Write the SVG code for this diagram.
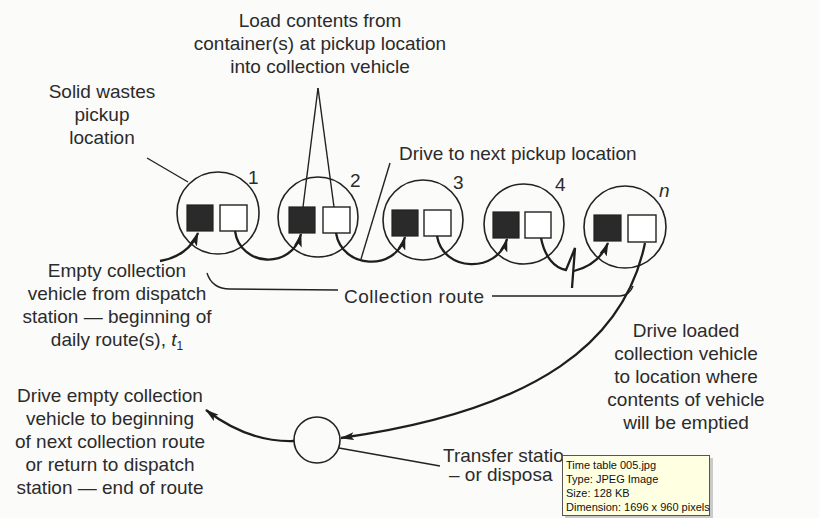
<svg xmlns="http://www.w3.org/2000/svg" width="819" height="518" viewBox="0 0 819 518">
  <style>
    .t { font-family: "Liberation Sans", Arial, sans-serif; font-size: 19px; fill: #2b2b2b; text-anchor: middle; }
    .ts { text-anchor: start; }
    .num { font-family: "Liberation Sans", Arial, sans-serif; font-size: 19px; fill: #2b2b2b; }
    .c { fill: none; stroke: #222; stroke-width: 1.6; }
    .bk { fill: #2a2a2a; stroke: #222; stroke-width: 1.2; }
    .wh { fill: #fff; stroke: #222; stroke-width: 1.4; }
    .thick { fill: none; stroke: #1e1e1e; stroke-width: 2.3; }
    .thin { fill: none; stroke: #222; stroke-width: 1.4; }
    .tip { font-family: "Liberation Sans", Tahoma, sans-serif; font-size: 11px; fill: #111; }
  </style>
  <defs>
    <marker id="ah" markerUnits="userSpaceOnUse" markerWidth="14" markerHeight="8" refX="13" refY="4" orient="auto">
      <path d="M0,0 L14,4 L0,8 L3,4 z" fill="#1e1e1e"/>
    </marker>
  </defs>
  <rect x="0" y="0" width="819" height="518" fill="#fbfbfa"/>

  <!-- pickup locations -->
  <g id="pickup-1">
    <circle class="c" cx="218" cy="213" r="41"/>
    <rect class="bk" x="187" y="205" width="26" height="26"/>
    <rect class="wh" x="220" y="205" width="27" height="26"/>
    <text class="num" x="248" y="184">1</text>
  </g>
  <g id="pickup-2">
    <circle class="c" cx="318" cy="217" r="40"/>
    <rect class="bk" x="289" y="207" width="26" height="26"/>
    <rect class="wh" x="323" y="207" width="27" height="26"/>
    <text class="num" x="350" y="187">2</text>
  </g>
  <g id="pickup-3">
    <circle class="c" cx="423" cy="220" r="40"/>
    <rect class="bk" x="392" y="210" width="26" height="26"/>
    <rect class="wh" x="424" y="210" width="27" height="26"/>
    <text class="num" x="453" y="189">3</text>
  </g>
  <g id="pickup-4">
    <circle class="c" cx="524" cy="224" r="40"/>
    <rect class="bk" x="493" y="212" width="26" height="26"/>
    <rect class="wh" x="525" y="212" width="26" height="26"/>
    <text class="num" x="555" y="191">4</text>
  </g>
  <g id="pickup-n">
    <circle class="c" cx="625" cy="227" r="41"/>
    <rect class="bk" x="594" y="215" width="27" height="26"/>
    <rect class="wh" x="628" y="215" width="28" height="27"/>
    <text class="num" x="659" y="197" font-style="italic">n</text>
  </g>
  <g id="transfer-station">
    <circle class="c" cx="317" cy="440" r="23"/>
  </g>

  <!-- connectors -->
  <g id="connectors">
    <path class="thick" d="M 160 261 C 178 258, 192 248, 198 233" marker-end="url(#ah)"/>
    <path class="thick" d="M 235 231 C 240 267, 292 270, 301 234" marker-end="url(#ah)"/>
    <path class="thick" d="M 336 233 C 342 269, 395 272, 405 237" marker-end="url(#ah)"/>
    <path class="thick" d="M 437 236 C 443 272, 497 274, 507 239" marker-end="url(#ah)"/>
    <path class="thick" d="M 541 238 C 545 258, 555 268, 566 270 L 575 248 L 572 288"/>
    <path class="thick" d="M 574 271 C 586 268, 600 262, 608 243" marker-end="url(#ah)"/>
    <path class="thick" d="M 645 243 C 625 340, 540 410, 341 438" marker-end="url(#ah)"/>
    <path class="thick" d="M 294 441 C 262 442, 232 430, 206 410" marker-end="url(#ah)"/>
    <!-- leaders -->
    <line class="thin" x1="147" y1="158" x2="188" y2="182"/>
    <line class="thin" x1="318" y1="88" x2="303" y2="207"/>
    <line class="thin" x1="318" y1="88" x2="334" y2="207"/>
    <line class="thin" x1="390" y1="163" x2="361" y2="259"/>
    <line class="thin" x1="339" y1="448" x2="440" y2="466"/>
    <!-- collection route bracket -->
    <path class="thin" d="M 207 273 Q 212 289, 230 289 L 338 290"/>
    <path class="thin" d="M 492 296 L 620 296 Q 630 295, 633 286"/>
  </g>

  <!-- labels -->
  <g id="label-load">
    <text class="t" x="320" y="27">Load contents from</text>
    <text class="t" x="320" y="50">container(s) at pickup location</text>
    <text class="t" x="320" y="73">into collection vehicle</text>
  </g>
  <g id="label-solid">
    <text class="t" x="102" y="98">Solid wastes</text>
    <text class="t" x="102" y="121">pickup</text>
    <text class="t" x="102" y="144">location</text>
  </g>
  <g id="label-drive-next">
    <text class="t ts" x="399" y="160">Drive to next pickup location</text>
  </g>
  <g id="label-empty">
    <text class="t" x="117" y="277">Empty collection</text>
    <text class="t" x="117" y="300">vehicle from dispatch</text>
    <text class="t" x="117" y="323">station — beginning of</text>
    <text class="t" x="117" y="346">daily route(s), <tspan font-style="italic">t</tspan><tspan font-size="12" dy="4">1</tspan></text>
  </g>
  <g id="label-route">
    <text class="t" x="414" y="303" textLength="140">Collection route</text>
  </g>
  <g id="label-loaded">
    <text class="t" x="686" y="337">Drive loaded</text>
    <text class="t" x="686" y="360">collection vehicle</text>
    <text class="t" x="686" y="383">to location where</text>
    <text class="t" x="686" y="406">contents of vehicle</text>
    <text class="t" x="686" y="429">will be emptied</text>
  </g>
  <g id="label-return">
    <text class="t" x="110" y="402">Drive empty collection</text>
    <text class="t" x="110" y="425">vehicle to beginning</text>
    <text class="t" x="110" y="448">of next collection route</text>
    <text class="t" x="110" y="471">or return to dispatch</text>
    <text class="t" x="110" y="494">station — end of route</text>
  </g>
  <g id="label-transfer">
    <text class="t ts" x="443" y="462">Transfer statio</text>
    <text class="t ts" x="449" y="481">– or disposa</text>
  </g>

  <!-- file tooltip overlay -->
  <g id="tooltip">
    <rect x="565" y="458" width="148" height="60" fill="#9a9a9a" opacity="0.5"/>
    <rect x="562.5" y="455.5" width="147" height="60" fill="#ffffe1" stroke="#555" stroke-width="1"/>
    <text class="tip" x="566" y="469">Time table 005.jpg</text>
    <text class="tip" x="566" y="483">Type: JPEG Image</text>
    <text class="tip" x="566" y="497">Size: 128 KB</text>
    <text class="tip" x="566" y="511">Dimension: 1696 x 960 pixels</text>
  </g>
</svg>
